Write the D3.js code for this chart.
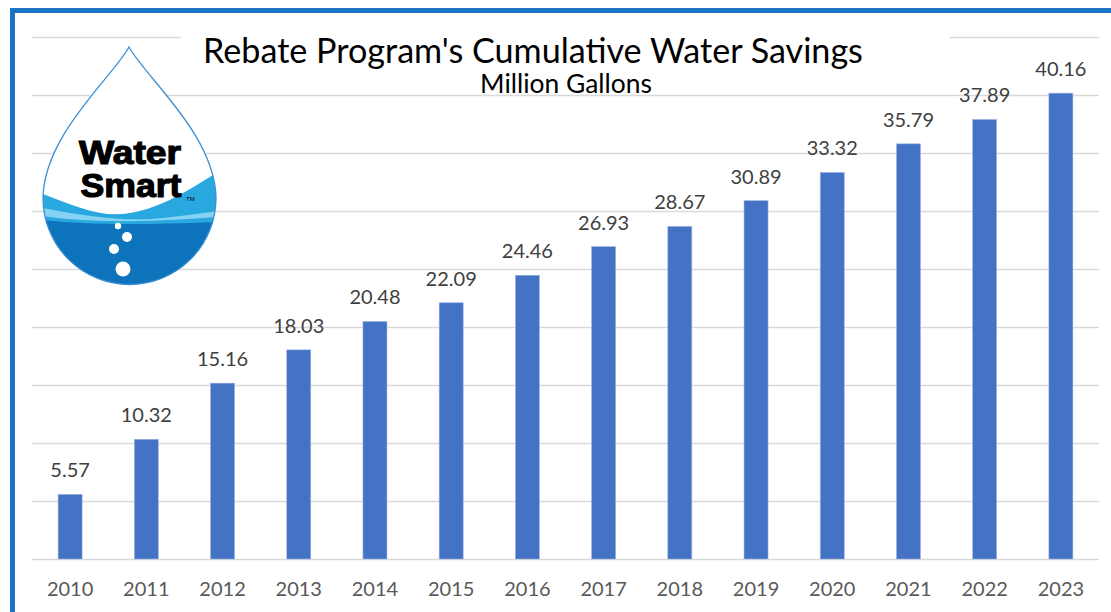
<!DOCTYPE html>
<html>
<head>
<meta charset="utf-8">
<script src="https://cdn.jsdelivr.net/npm/d3@7"></script>
<style>
  html, body { margin: 0; padding: 0; background: #fff; }
  svg { display: block; }
</style>
</head>
<body>
<script>
const years = ["2010","2011","2012","2013","2014","2015","2016","2017","2018","2019","2020","2021","2022","2023"];
const savings = [5.57,10.32,15.16,18.03,20.48,22.09,24.46,26.93,28.67,30.89,33.32,35.79,37.89,40.16];
const yTicks = [0,5,10,15,20,25,30,35,40,45];
const titleText = "Rebate Program's Cumulative Water Savings";
const subtitleText = "Million Gallons";

const W = 1111, H = 612;
const svg = d3.select("body").append("svg").attr("width", W).attr("height", H);

// frame
svg.append("rect").attr("x", 10).attr("y", 8).attr("width", W - 10).attr("height", 5).attr("fill", "#1a76c3");
svg.append("rect").attr("x", 10).attr("y", 8).attr("width", 5).attr("height", H - 8).attr("fill", "#1a76c3");

const x = d3.scaleBand().domain(years).range([32, 1099]).paddingInner(0.685).paddingOuter(0.3425);
const y = d3.scaleLinear().domain([0, 45]).range([559, 37]);

// gridlines
svg.append("g").selectAll("line").data(yTicks).join("line")
  .attr("x1", 32).attr("x2", 1099)
  .attr("y1", d => Math.round(y(d)) + 0.5).attr("y2", d => Math.round(y(d)) + 0.5)
  .attr("stroke", "#d9d9d9").attr("stroke-width", 1.3);

// bars
svg.append("g").selectAll("rect").data(years).join("rect")
  .attr("x", d => x(d)).attr("width", x.bandwidth())
  .attr("y", (d, i) => y(savings[i])).attr("height", (d, i) => y(0) - y(savings[i]))
  .attr("fill", "#4472c4").attr("stroke", "#9db5e3").attr("stroke-width", 0.6);

// data labels
svg.append("g").selectAll("text").data(years).join("text")
  .attr("x", d => x(d) + x.bandwidth() / 2)
  .attr("y", (d, i) => y(savings[i]) - 17)
  .attr("text-anchor", "middle")
  .attr("font-family", "Lato, 'Open Sans', sans-serif").attr("font-size", 20)
  .attr("fill", "#404040")
  .text((d, i) => savings[i].toFixed(2));

// x axis labels
const xAxis = d3.axisBottom(x).tickSize(0).tickPadding(0);
const gx = svg.append("g").attr("transform", "translate(0,582)").call(xAxis);
gx.select(".domain").remove();
gx.selectAll("text").attr("font-family", "Lato, 'Open Sans', sans-serif").attr("font-size", 20).attr("fill", "#595959").attr("dy", "0.71em");

// title block
svg.append("rect").attr("x", 181).attr("y", 28).attr("width", 769).attr("height", 30).attr("fill", "#fff");
const title = svg.append("text").attr("x", 533).attr("y", 63).attr("text-anchor", "middle")
  .attr("font-family", "Lato, sans-serif").attr("font-size", 30).attr("fill", "#000").text(titleText);
let tw = title.node().getComputedTextLength();
title.attr("font-size", 30 * 660 / tw);
const sub = svg.append("text").attr("x", 566).attr("y", 93).attr("text-anchor", "middle")
  .attr("font-family", "Lato, sans-serif").attr("font-size", 22).attr("fill", "#000").text(subtitleText);
let sw = sub.node().getComputedTextLength();
sub.attr("font-size", 22 * 172 / sw);

// logo
const logo = svg.append("g");
const dropPath = "M129,47 C112,78 44,135 43,198 A86.5,86.5 0 0 0 216,198 C215,135 146,78 129,47 Z";
const defs = svg.append("defs");
defs.append("clipPath").attr("id", "dropClip").append("path").attr("d", dropPath);
logo.append("path").attr("d", dropPath).attr("fill", "#fff");
const water = logo.append("g").attr("clip-path", "url(#dropClip)");
water.append("path").attr("d", "M20,186 C60,198 95,220 130,213 C170,206 200,182 240,158 L240,300 L20,300 Z").attr("fill", "#29a8e0");
water.append("path").attr("d", "M20,203 C60,212 110,221 150,219 C190,216 215,211 240,208 L240,300 L20,300 Z").attr("fill", "#86d2f3");
water.append("path").attr("d", "M20,212 C70,222 120,225 240,215 L240,300 L20,300 Z").attr("fill", "#29a8e0");
water.append("path").attr("d", "M20,217 C70,225 130,226 240,221 L240,300 L20,300 Z").attr("fill", "#0d73ba");
[[118,226,3.2],[127,237,5],[114,249,5],[123,269,7.5]].forEach(b => {
  water.append("circle").attr("cx", b[0]).attr("cy", b[1]).attr("r", b[2]).attr("fill", "#fff");
});
logo.append("path").attr("d", dropPath).attr("fill", "none").attr("stroke", "#3b8fd3").attr("stroke-width", 1.3);
logo.append("text").attr("x", 130).attr("y", 164).attr("text-anchor", "middle")
  .attr("font-family", "'Liberation Sans', Arial, sans-serif").attr("font-weight", "bold").attr("font-size", 33.5)
  .attr("textLength", 102).attr("lengthAdjust", "spacingAndGlyphs").attr("fill", "#000")
  .attr("stroke", "#000").attr("stroke-width", 1.2).text("Water");
logo.append("text").attr("x", 131).attr("y", 197).attr("text-anchor", "middle")
  .attr("font-family", "'Liberation Sans', Arial, sans-serif").attr("font-weight", "bold").attr("font-size", 33.5)
  .attr("textLength", 101).attr("lengthAdjust", "spacingAndGlyphs").attr("fill", "#000")
  .attr("stroke", "#000").attr("stroke-width", 1.2).text("Smart");
logo.append("text").attr("x", 186).attr("y", 201)
  .attr("font-family", "'Liberation Sans', Arial, sans-serif").attr("font-size", 6).attr("fill", "#000").text("TM");
</script>
</body>
</html>
